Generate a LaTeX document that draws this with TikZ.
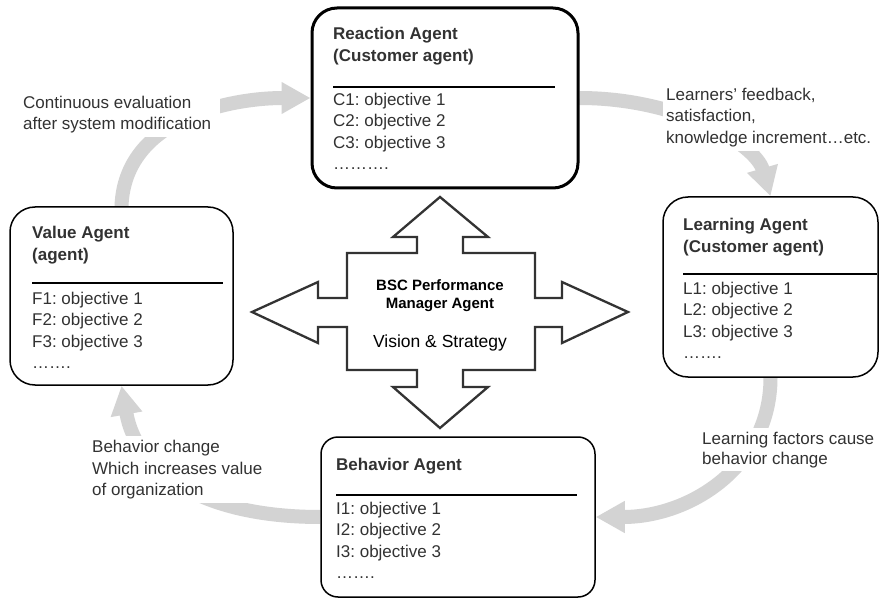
\documentclass[tikz,border=0pt]{standalone}
\usepackage{fontspec}
\setmainfont{Liberation Sans}
\usetikzlibrary{arrows.meta,backgrounds}
\definecolor{txt}{RGB}{50,50,50}
\definecolor{flowgray}{RGB}{211,211,211}
\definecolor{crossc}{RGB}{51,51,51}
\newcommand{\lw}[2]{\makebox[#1][l]{#2}}
\frenchspacing
\begin{document}
\begin{tikzpicture}[x=1pt,y=-1pt,
  agent/.style={draw=black, fill=white, rounded corners=25pt, line width=1.5pt, inner sep=0pt},
  atitle/.style={anchor=base west, inner sep=0pt, font=\bfseries\fontsize{17}{20}\selectfont, text=txt},
  aobj/.style={anchor=base west, inner sep=0pt, font=\fontsize{17}{20}\selectfont, text=txt},
  lab/.style={anchor=base west, fill=white, inner xsep=3pt, inner ysep=3pt, text height=13pt, text depth=4pt, font=\fontsize{17}{20}\selectfont, text=txt},
  sepline/.style={line width=2pt, draw=black},
  flow/.style={line width=14pt, draw=flowgray, -{Triangle[length=29pt,width=30pt]}},
  ctitle/.style={anchor=base, inner sep=0pt, font=\bfseries\fontsize{15}{18}\selectfont, text=black},
  ctext/.style={anchor=base, inner sep=0pt, font=\fontsize{17.5}{20}\selectfont, text=black}
]
\useasboundingbox (0,0) rectangle (879,599);

% agent boxes
\node[agent, line width=3pt, minimum width=266pt, minimum height=180pt] (react) at (445,98) {};
\node[agent, minimum width=223pt, minimum height=178pt] (val) at (121.5,296) {};
\node[agent, minimum width=215pt, minimum height=180pt] (learn) at (770.5,287) {};
\node[agent, rounded corners=17pt, minimum width=274pt, minimum height=160pt] (beh) at (458,517) {};

% flow arrows behind everything
\begin{scope}[on background layer]
\draw[flow] (val.north) .. controls +(3,-87) and +(-82,0) .. (react.west);
\draw[flow] (react.east) .. controls +(100,0) and +(-15,-52) .. (learn.north);
\draw[flow] (learn.south) .. controls +(0,88) and +(95,0) .. (beh.east);
\draw[flow] (beh.west) .. controls +(-120,0) and +(15,85) .. (val.south);
\end{scope}

% flow labels
\node[lab] (l1a) at (20,109) {\lw{194pt}{Continuous evaluation}};
\node[lab] (l1b) at (20,130) {\lw{194pt}{after system modification}};
\node[lab] (l2a) at (663,100.5) {\lw{210pt}{Learners’ feedback,}};
\node[lab] (l2b) at (663,122) {\lw{210pt}{satisfaction,}};
\node[lab] (l2c) at (663,144) {\lw{210pt}{knowledge increment…etc.}};
\node[lab] (l3a) at (89,452) {\lw{174pt}{Behavior change}};
\node[lab] (l3b) at (89,474) {\lw{174pt}{Which increases value}};
\node[lab] (l3c) at (89,495.5) {\lw{174pt}{of organization}};
\node[lab] (l4a) at (699,444) {\lw{174pt}{Learning factors cause}};
\node[lab] (l4b) at (699,464) {\lw{174pt}{behavior change}};

% Reaction agent content
\node[atitle] (rt1) at (333,40) {Reaction Agent};
\node[atitle] (rt2) at (333,62) {(Customer agent)};
\draw[sepline] (333,87) -- (555,87);
\node[aobj] (r1) at (333,106) {C1: objective 1};
\node[aobj] (r2) at (333,127) {C2: objective 2};
\node[aobj] (r3) at (333,148.5) {C3: objective 3};
\node[aobj] (r4) at (333,170) {……….};

% Value agent content
\node[atitle] (vt1) at (32,238) {Value Agent};
\node[atitle] (vt2) at (32,260) {(agent)};
\draw[sepline] (32,283) -- (223,283);
\node[aobj] (v1) at (32,304) {F1: objective 1};
\node[aobj] (v2) at (32,325.5) {F2: objective 2};
\node[aobj] (v3) at (32,347) {F3: objective 3};
\node[aobj] (v4) at (32,368) {…….};

% Learning agent content
\node[atitle] (lt1) at (683,230.5) {Learning Agent};
\node[atitle] (lt2) at (683,252.5) {(Customer agent)};
\draw[sepline] (683,274) -- (877,274);
\node[aobj] (le1) at (683,294) {L1: objective 1};
\node[aobj] (le2) at (683,315.5) {L2: objective 2};
\node[aobj] (le3) at (683,337) {L3: objective 3};
\node[aobj] (le4) at (683,358) {…….};

% Behavior agent content
\node[atitle] (bt1) at (336,470.5) {Behavior Agent};
\draw[sepline] (336,495) -- (577,495);
\node[aobj] (b1) at (336,514) {I1: objective 1};
\node[aobj] (b2) at (336,535.5) {I2: objective 2};
\node[aobj] (b3) at (336,557) {I3: objective 3};
\node[aobj] (b4) at (336,578) {…….};

% central four-way arrow
\draw[line width=2.3pt, draw=crossc, fill=white, line join=miter]
  (440,197) -- (488,237) -- (463,237) -- (463,253) -- (535,253) -- (535,298)
  -- (562,298) -- (562,282) -- (628,312) -- (562,343) -- (562,327) -- (535,327)
  -- (535,370) -- (463,370) -- (463,387) -- (488,387) -- (440,428) -- (393,387)
  -- (417,387) -- (417,370) -- (347,370) -- (347,327) -- (318,327) -- (318,343)
  -- (252,312) -- (318,282) -- (318,298) -- (347,298) -- (347,253) -- (417,253)
  -- (417,237) -- (393,237) -- cycle;
\node[ctitle] (c1) at (440,290) {BSC Performance};
\node[ctitle] (c2) at (440,308) {Manager Agent};
\node[ctext] (c3) at (440,347.5) {Vision \& Strategy};
\end{tikzpicture}
\end{document}
